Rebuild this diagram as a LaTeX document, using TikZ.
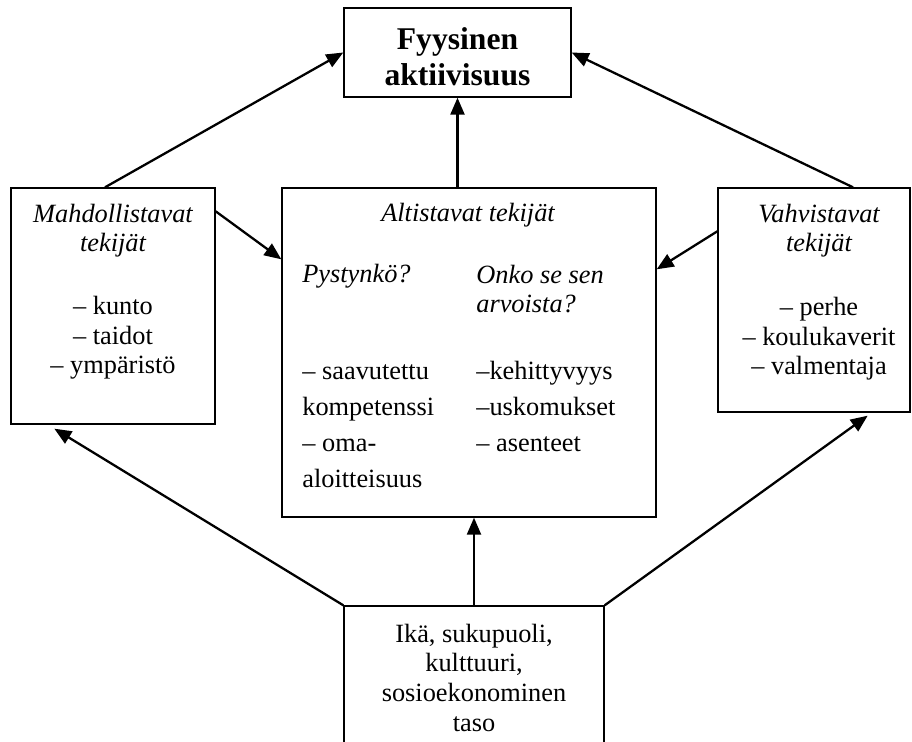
\documentclass[tikz,border=0pt]{standalone}
\usepackage{fontspec}
\setmainfont{Liberation Serif}
\usetikzlibrary{arrows.meta,calc}
\newcommand{\lbl}{\fontsize{15}{16.8}\selectfont}
\newcommand{\lst}{\fontsize{15}{20.5}\selectfont}

\begin{document}
\begin{tikzpicture}[x=0.02cm,y=-0.02cm,
    box/.style={draw,line width=0.8pt,inner sep=0pt},
    arr/.style={line width=1.3pt,-{Triangle[length=0.34cm,width=0.28cm]}},
    txt/.style={inner sep=0pt,anchor=base,align=center,font=\lbl},
    col/.style={inner sep=0pt,anchor=base west,align=left,font=\lbl}]
  \useasboundingbox (0,0) rectangle (912,742);
  \clip (0,0) rectangle (912,742);
  % boxes
  \node[box,minimum width=4.54cm,minimum height=1.78cm] (fyys) at (457.5,52.5) {};
  \node[box,minimum width=4.08cm,minimum height=4.72cm] (mahd) at (113,306) {};
  \node[box,minimum width=7.48cm,minimum height=6.58cm] (altis) at (469,352.5) {};
  \node[box,minimum width=3.84cm,minimum height=4.48cm] (vahv) at (814,300) {};
  \node[box,minimum width=5.2cm,minimum height=3.08cm] (tausta) at (474,683) {};
  % texts (base = last line)
  \node[txt,font=\fontsize{18}{20.5}\selectfont\bfseries] (fyysT) at (457.5,86) {Fyysinen\\aktiivisuus};
  \node[txt] (mahdH) at (113,252) {\itshape Mahdollistavat\\\itshape tekijät};
  \node[txt] (mahdL) at (113,374) {– kunto\\– taidot\\– ympäristö};
  \node[txt] (altisH) at (468,222) {\itshape Altistavat tekijät};
  \node[col] (kyky) at (302,283) {\itshape Pystynkö?};
  \node[col] (arvo) at (476,313) {\itshape Onko se sen\\\itshape arvoista?};
  \node[col,font=\lst] (kykyL) at (302,488) {– saavutettu\\kompetenssi\\– oma-\\aloitteisuus};
  \node[col,font=\lst] (arvoL) at (476,452) {–kehittyvyys\\–uskomukset\\– asenteet};
  \node[txt] (vahvH) at (819,252) {\itshape Vahvistavat\\\itshape tekijät};
  \node[txt] (vahvL) at (819,375) {– perhe\\– koulukaverit\\– valmentaja};
  \node[txt] (taustaT) at (474,731) {Ikä, sukupuoli,\\kulttuuri,\\sosioekonominen\\taso};
  % arrows
  \draw[arr] ($(mahd.north)+(-8,0)$) -- (fyys.west);
  \draw[arr] ($(vahv.north)+(39,0)$) -- (fyys.east);
  \draw[arr] (altis.north -| fyys.south) -- (fyys.south);
  \draw[arr] ($(mahd.north east)+(0,24)$) -- ($(altis.north west)+(0,72)$);
  \draw[arr] ($(vahv.north west)+(0,44)$) -- ($(altis.north east)+(0,82)$);
  \draw[arr] (tausta.north west) -- ($(mahd.south west)+(44,4)$);
  \draw[arr] (tausta.north east) -- ($(vahv.south east)+(-43,3)$);
  \draw[arr] (tausta.north) -- (tausta.north |- altis.south);
\end{tikzpicture}
\end{document}
